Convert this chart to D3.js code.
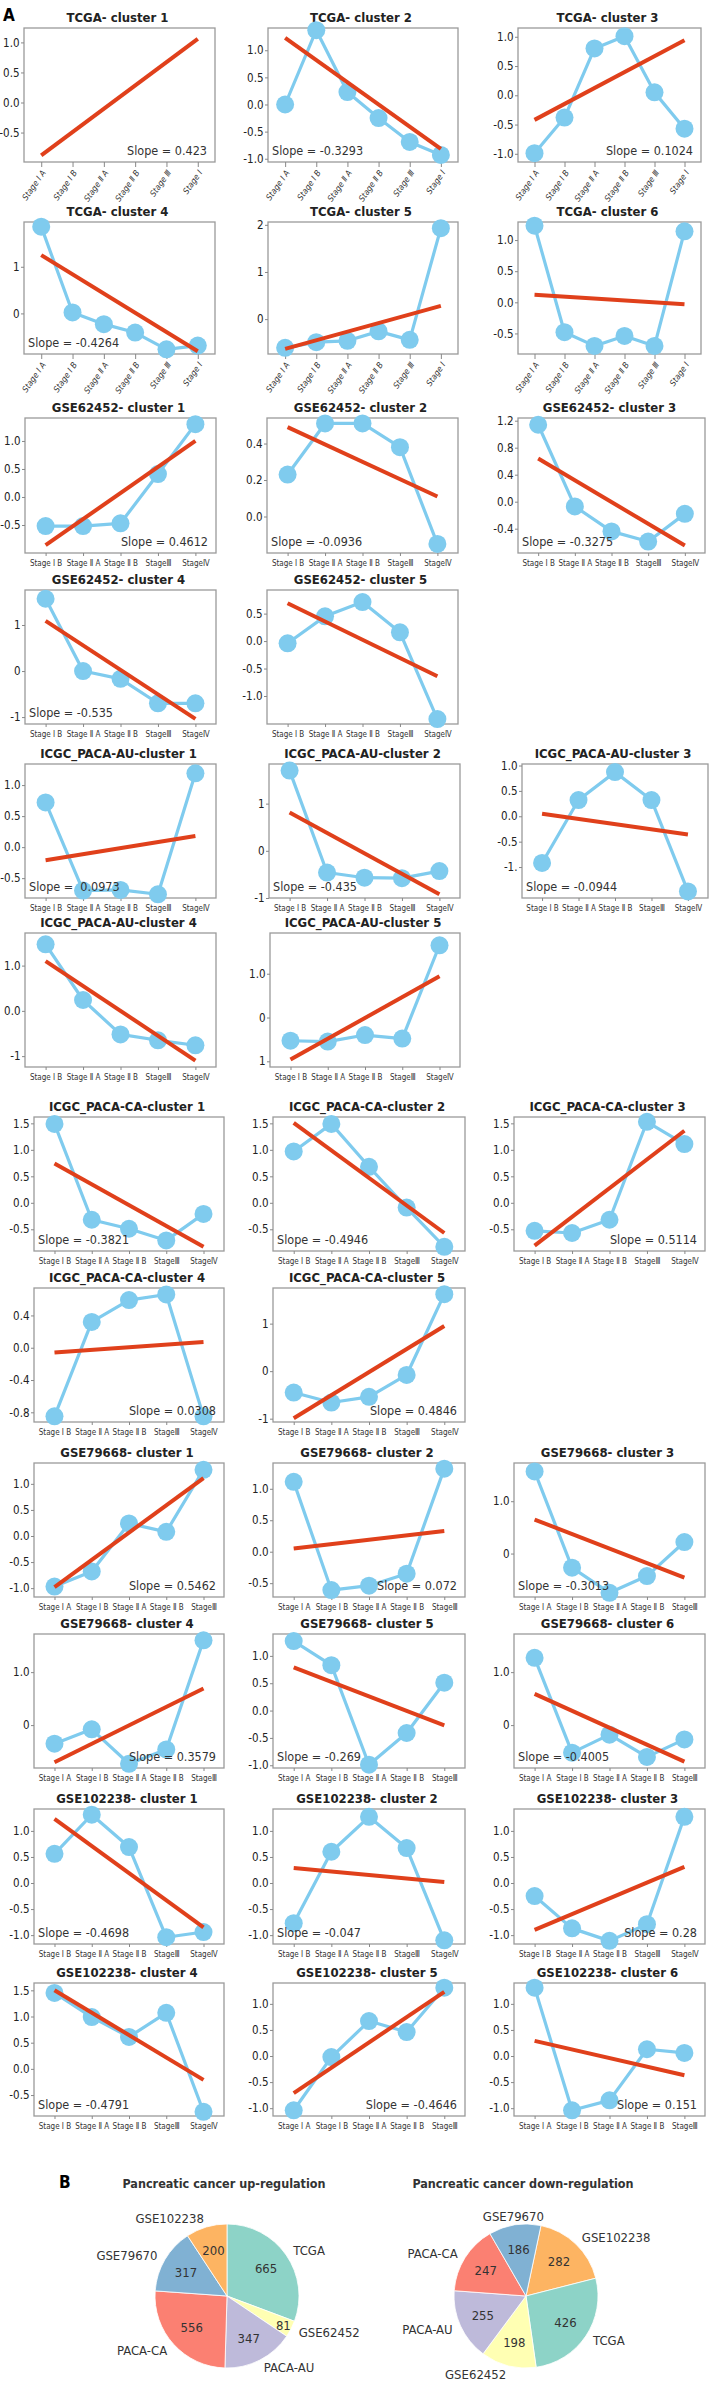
<!DOCTYPE html>
<html>
<head>
<meta charset="utf-8">
<script src="https://cdn.jsdelivr.net/npm/d3@7"></script>
<style>
  body { margin: 0; background: #fff; }
  svg text { font-family: "Liberation Sans Narrow", "DejaVu Sans Condensed", sans-serif; }
</style>
</head>
<body>
<svg id="chart" width="710" height="2389"></svg>
<script>
// stage labels
const stagesTCGA = ["Stage Ⅰ A", "Stage Ⅰ B", "Stage Ⅱ A", "Stage Ⅱ B", "Stage Ⅲ", "Stage Ⅰ"];
const stagesB = ["Stage Ⅰ B", "Stage Ⅱ A", "Stage Ⅱ B", "StageⅢ", "StageⅣ"];
const stagesA = ["Stage Ⅰ A", "Stage Ⅰ B", "Stage Ⅱ A", "Stage Ⅱ B", "StageⅢ"];

const titles = [
  "TCGA- cluster 1", "TCGA- cluster 2", "TCGA- cluster 3", "TCGA- cluster 4", "TCGA- cluster 5", "TCGA- cluster 6",
  "GSE62452- cluster 1", "GSE62452- cluster 2", "GSE62452- cluster 3", "GSE62452- cluster 4", "GSE62452- cluster 5",
  "ICGC_PACA-AU-cluster 1", "ICGC_PACA-AU-cluster 2", "ICGC_PACA-AU-cluster 3", "ICGC_PACA-AU-cluster 4", "ICGC_PACA-AU-cluster 5",
  "ICGC_PACA-CA-cluster 1", "ICGC_PACA-CA-cluster 2", "ICGC_PACA-CA-cluster 3", "ICGC_PACA-CA-cluster 4", "ICGC_PACA-CA-cluster 5",
  "GSE79668- cluster 1", "GSE79668- cluster 2", "GSE79668- cluster 3", "GSE79668- cluster 4", "GSE79668- cluster 5", "GSE79668- cluster 6",
  "GSE102238- cluster 1", "GSE102238- cluster 2", "GSE102238- cluster 3", "GSE102238- cluster 4", "GSE102238- cluster 5", "GSE102238- cluster 6"
];

const panelStages = [
  stagesTCGA, stagesTCGA, stagesTCGA, stagesTCGA, stagesTCGA, stagesTCGA,
  stagesB, stagesB, stagesB, stagesB, stagesB,
  stagesB, stagesB, stagesB, stagesB, stagesB,
  stagesB, stagesB, stagesB, stagesB, stagesB,
  stagesA, stagesA, stagesA, stagesA, stagesA, stagesA,
  stagesB, stagesB, stagesB, stagesB, stagesA, stagesA
];

// cluster mean expression per stage
const values = [
  null,
  [0.0, 1.37, 0.23, -0.25, -0.69, -0.93],
  [-0.99, -0.38, 0.80, 1.01, 0.05, -0.57],
  [1.86, 0.02, -0.23, -0.41, -0.77, -0.69],
  [-0.61, -0.49, -0.46, -0.26, -0.44, 1.93],
  [1.23, -0.48, -0.70, -0.54, -0.70, 1.14],
  [-0.52, -0.52, -0.47, 0.41, 1.30],
  [0.23, 0.51, 0.51, 0.38, -0.15],
  [1.14, -0.07, -0.44, -0.59, -0.18],
  [1.57, 0.0, -0.17, -0.70, -0.70],
  [-0.04, 0.45, 0.71, 0.16, -1.42],
  [0.72, -0.70, -0.69, -0.76, 1.19],
  [1.70, -0.46, -0.57, -0.58, -0.43],
  [-0.92, 0.32, 0.87, 0.32, -1.48],
  [1.47, 0.24, -0.52, -0.65, -0.76],
  [-0.53, -0.55, -0.40, -0.48, 1.65],
  [1.49, -0.32, -0.49, -0.71, -0.21],
  [0.97, 1.49, 0.68, -0.09, -0.83],
  [-0.53, -0.57, -0.32, 1.53, 1.11],
  [-0.85, 0.32, 0.59, 0.66, -0.85],
  [-0.45, -0.66, -0.54, -0.08, 1.62],
  [-0.97, -0.68, 0.24, 0.08, 1.27],
  [1.11, -0.61, -0.54, -0.35, 1.32],
  [1.57, -0.27, -0.75, -0.43, 0.22],
  [-0.35, -0.08, -0.73, -0.46, 1.60],
  [1.27, 0.83, -0.99, -0.41, 0.51],
  [1.27, -0.52, -0.18, -0.60, -0.27],
  [0.56, 1.31, 0.69, -1.04, -0.94],
  [-0.77, 0.60, 1.27, 0.67, -1.10],
  [-0.25, -0.87, -1.11, -0.79, 1.27],
  [1.45, 0.99, 0.61, 1.07, -0.82],
  [-1.04, -0.02, 0.67, 0.46, 1.31],
  [1.31, -1.04, -0.85, 0.13, 0.06]
];

// fitted line: value at first and last stage
const fits = [
  [-0.88, 1.06], [1.23, -0.82], [-0.42, 0.94], [1.25, -0.81], [-0.63, 0.28], [0.12, -0.03],
  [-0.86, 1.0], [0.49, 0.11], [0.64, -0.65], [1.09, -1.04], [0.69, -0.64],
  [-0.21, 0.18], [0.81, -0.92], [0.05, -0.36], [1.10, -1.10], [-0.96, 0.94],
  [0.74, -0.83], [1.51, -0.57], [-0.81, 1.36], [-0.06, 0.07], [-0.99, 0.95],
  [-0.98, 1.11], [0.05, 0.33], [0.65, -0.46], [-0.70, 0.69], [0.79, -0.27], [0.59, -0.69],
  [1.23, -0.85], [0.29, 0.02], [-0.90, 0.31], [1.50, -0.21], [-0.71, 1.23], [0.29, -0.37]
];

const slopes = [
  "Slope = 0.423", "Slope = -0.3293", "Slope = 0.1024", "Slope = -0.4264", null, null,
  "Slope = 0.4612", "Slope = -0.0936", "Slope = -0.3275", "Slope = -0.535", null,
  "Slope =  0.0973", "Slope = -0.435", "Slope = -0.0944", null, null,
  "Slope = -0.3821", "Slope = -0.4946", "Slope = 0.5114", "Slope = 0.0308", "Slope = 0.4846",
  "Slope = 0.5462", "Slope = 0.072", "Slope = -0.3013", "Slope = 0.3579", "Slope = -0.269", "Slope = -0.4005",
  "Slope = -0.4698", "Slope = -0.047", "Slope = 0.28", "Slope = -0.4791", "Slope = -0.4646", "Slope = 0.151"
];

const yDomains = [
  [-0.99, 1.24], [-1.06, 1.41], [-1.14, 1.15], [-0.87, 1.96], [-0.74, 2.06], [-0.83, 1.29],
  [-1.0, 1.41], [-0.2, 0.54], [-0.76, 1.24], [-1.15, 1.76], [-1.51, 0.93],
  [-0.82, 1.34], [-1.0, 1.84], [-1.61, 1.03], [-1.24, 1.72], [-1.13, 1.93],
  [-0.91, 1.62], [-0.91, 1.62], [-0.91, 1.62], [-0.92, 0.74], [-1.07, 1.75],
  [-1.17, 1.40], [-0.72, 1.41], [-0.83, 1.73], [-0.81, 1.72], [-1.05, 1.40], [-0.81, 1.72],
  [-1.17, 1.42], [-1.17, 1.42], [-1.17, 1.42], [-0.9, 1.64], [-1.15, 1.40], [-1.15, 1.40]
];

const t5 = [-1, -0.5, 0, 0.5, 1];
const l5 = ["-1.0", "-0.5", "0.0", "0.5", "1.0"];
const yTickValues = [
  [-0.5, 0, 0.5, 1], t5, t5, [0, 1], [0, 1, 2], [-0.5, 0, 0.5, 1],
  [-0.5, 0, 0.5, 1], [0, 0.2, 0.4], [-0.4, 0, 0.4, 0.8, 1.2], [-1, 0, 1], [-1, -0.5, 0, 0.5],
  [-0.5, 0, 0.5, 1], [-1, 0, 1], t5, [-1, 0, 1], [-1, 0, 1],
  [-0.5, 0, 0.5, 1, 1.5], [-0.5, 0, 0.5, 1, 1.5], [-0.5, 0, 0.5, 1, 1.5], [-0.8, -0.4, 0, 0.4], [-1, 0, 1],
  t5, [-0.5, 0, 0.5, 1], [0, 1], [0, 1], t5, [0, 1],
  t5, t5, t5, [-0.5, 0, 0.5, 1, 1.5], t5, t5
];
const yTickLabels = [
  ["-0.5", "0.0", "0.5", "1.0"], l5, l5, ["0", "1"], ["0", "1", "2"], ["-0.5", "0.0", "0.5", "1.0"],
  ["-0.5", "0.0", "0.5", "1.0"], ["0.0", "0.2", "0.4"], ["-0.4", "0.0", "0.4", "0.8", "1.2"], ["-1", "0", "1"], ["-1.0", "-0.5", "0.0", "0.5"],
  ["-0.5", "0.0", "0.5", "1.0"], ["-1", "0", "1"], ["-1.", "-0.5", "0.0", "0.5", "1.0"], ["-1", "0.0", "1.0"], ["1", "0", "1.0"],
  ["-0.5", "0.0", "0.5", "1.0", "1.5"], ["-0.5", "0.0", "0.5", "1.0", "1.5"], ["-0.5", "0.0", "0.5", "1.0", "1.5"], ["-0.8", "-0.4", "0.0", "0.4"], ["-1", "0", "1"],
  l5, ["-0.5", "0.0", "0.5", "1.0"], ["0", "1.0"], ["0", "1.0"], l5, ["0", "1.0"],
  l5, l5, l5, ["-0.5", "0.0", "0.5", "1.0", "1.5"], l5, l5
];

// pies
const pieUpNames = ["TCGA", "GSE62452", "PACA-AU", "PACA-CA", "GSE79670", "GSE102238"];
const pieUpValues = [665, 81, 347, 556, 317, 200];
const pieDownNames = ["GSE102238", "TCGA", "GSE62452", "PACA-AU", "PACA-CA", "GSE79670"];
const pieDownValues = [282, 426, 198, 255, 247, 186];

// ---------- layout ----------
const svg = d3.select("#chart");
const BLUE = "#7fcbee", RED = "#e0401b", FRAME = "#9a9a9a";

const colsA = [[24, 215], [268, 458], [518, 701]];
const colsC = [[34, 224], [273, 465], [514, 705]];
const rows = [
  {top: 28, bottom: 162, cols: colsA, panels: [0, 1, 2]},
  {top: 222, bottom: 354, cols: colsA, panels: [3, 4, 5]},
  {top: 418, bottom: 553, cols: [[25, 216], [267, 458], [518, 705]], panels: [6, 7, 8]},
  {top: 590, bottom: 724, cols: [[25, 216], [267, 458]], panels: [9, 10]},
  {top: 764, bottom: 898, cols: [[25, 216], [269, 460], [522, 708]], panels: [11, 12, 13]},
  {top: 933, bottom: 1067, cols: [[25, 216], [270, 460]], panels: [14, 15]},
  {top: 1117, bottom: 1251, cols: colsC, panels: [16, 17, 18]},
  {top: 1288, bottom: 1422, cols: colsC, panels: [19, 20]},
  {top: 1463, bottom: 1597, cols: colsC, panels: [21, 22, 23]},
  {top: 1634, bottom: 1768, cols: colsC, panels: [24, 25, 26]},
  {top: 1809, bottom: 1944, cols: colsC, panels: [27, 28, 29]},
  {top: 1983, bottom: 2116, cols: colsC, panels: [30, 31, 32]}
];
// where the slope label sits
const slopeAlign = [
  "end", "start", "end", "start", null, null,
  "end", "start", "start", "start", null,
  "start", "start", "start", null, null,
  "start", "start", "end", "end", "end",
  "end", "end", "start", "end", "start", "start",
  "start", "start", "end", "start", "end", "end"
];

function drawPanel(i, x0, x1, y0, y1) {
  const g = svg.append("g");
  const stages = panelStages[i];
  const rotated = stages.length === 6;
  const x = d3.scalePoint(stages, [x0, x1]).padding(0.55);
  const y = d3.scaleLinear(yDomains[i], [y1, y0]);

  g.append("rect")
    .attr("x", x0).attr("y", y0)
    .attr("width", x1 - x0).attr("height", y1 - y0)
    .attr("fill", "#fff").attr("stroke", FRAME).attr("stroke-width", 1.3);

  g.append("text")
    .attr("x", (x0 + x1) / 2 - 2).attr("y", y0 - 6)
    .attr("text-anchor", "middle")
    .attr("font-size", 13).attr("font-weight", "bold").attr("fill", "#222")
    .text(titles[i]);

  const ya = g.append("g")
    .attr("transform", `translate(${x0},0)`)
    .call(d3.axisLeft(y).tickValues(yTickValues[i])
      .tickFormat((d, k) => yTickLabels[i][k]).tickSize(3).tickPadding(1.5));
  ya.select(".domain").remove();
  ya.selectAll("line").attr("stroke", "#888");
  ya.selectAll("text").attr("font-size", 11.5).attr("fill", "#222");

  const xa = g.append("g")
    .attr("transform", `translate(0,${y1})`)
    .call(d3.axisBottom(x).tickSize(rotated ? 5 : 3).tickPadding(4));
  xa.select(".domain").remove();
  xa.selectAll("line").attr("stroke", "#888");
  if (rotated) {
    xa.selectAll("text")
      .attr("x", 0).attr("y", 0).attr("dy", "0.35em")
      .attr("transform", "translate(2,9) rotate(-55)")
      .attr("text-anchor", "end")
      .attr("font-size", 8.5).attr("font-style", "italic").attr("fill", "#333");
  } else {
    xa.selectAll("text").attr("font-size", 8).attr("fill", "#333");
  }

  const vals = values[i];
  if (vals) {
    const pts = stages.map((s, k) => [x(s), y(vals[k])]);
    g.append("path")
      .attr("d", d3.line()(pts))
      .attr("fill", "none").attr("stroke", BLUE).attr("stroke-width", 3.2)
      .attr("stroke-linejoin", "round");
    g.selectAll(null).data(pts).join("circle")
      .attr("cx", d => d[0]).attr("cy", d => d[1]).attr("r", 9)
      .attr("fill", BLUE);
  }

  const f = fits[i];
  g.append("line")
    .attr("x1", x(stages[0])).attr("y1", y(f[0]))
    .attr("x2", x(stages[stages.length - 1])).attr("y2", y(f[1]))
    .attr("stroke", RED).attr("stroke-width", 4);

  if (slopes[i]) {
    const al = slopeAlign[i];
    g.append("text")
      .attr("x", al === "end" ? x1 - 8 : x0 + 4)
      .attr("y", y1 - 7)
      .attr("text-anchor", al)
      .attr("font-size", 12.5).attr("fill", "#333")
      .style("white-space", "pre")
      .text(slopes[i]);
  }
}

rows.forEach(r => r.panels.forEach((p, k) => drawPanel(p, r.cols[k][0], r.cols[k][1], r.top, r.bottom)));

svg.append("text").attr("x", 3).attr("y", 21)
  .attr("font-size", 17).attr("font-weight", "bold").text("A");
svg.append("text").attr("x", 59).attr("y", 2188)
  .attr("font-size", 17).attr("font-weight", "bold").text("B");

const pieColor = d3.scaleOrdinal(pieUpNames, d3.schemeSet3);

function drawPie(cx, cy, r, names, vals, start, title) {
  const g = svg.append("g");
  g.append("text").attr("x", cx - 3).attr("y", cy - 108)
    .attr("text-anchor", "middle").attr("font-size", 12.5)
    .attr("font-weight", "bold").attr("fill", "#333").text(title);

  const total = d3.sum(vals);
  const data = names.map((n, k) => ({name: n, v: vals[k]}));
  const arcs = d3.pie().sort(null).value(d => d.v)
    .startAngle(start).endAngle(start + 2 * Math.PI)(data);
  const arc = d3.arc().innerRadius(0).outerRadius(r);

  const pg = g.append("g").attr("transform", `translate(${cx},${cy})`);
  pg.selectAll("path").data(arcs).join("path")
    .attr("d", arc)
    .attr("fill", d => pieColor(d.data.name))
    .attr("stroke", "#fff").attr("stroke-width", 0.8);

  const pos = (a, rr) => [rr * Math.sin(a), -rr * Math.cos(a)];
  pg.selectAll(".val").data(arcs).join("text")
    .attr("class", "val")
    .attr("transform", d => {
      const m = (d.startAngle + d.endAngle) / 2;
      const rr = d.data.v / total < 0.05 ? r * 0.88 : r * 0.66;
      return `translate(${pos(m, rr)})`;
    })
    .attr("dy", "0.35em").attr("text-anchor", "middle")
    .attr("font-size", 13).attr("fill", "#333")
    .text(d => d.data.v);

  pg.selectAll(".name").data(arcs).join("text")
    .attr("class", "name")
    .attr("transform", d => `translate(${pos((d.startAngle + d.endAngle) / 2, r * 1.12)})`)
    .attr("dy", "0.35em")
    .attr("text-anchor", d => {
      const s = Math.sin((d.startAngle + d.endAngle) / 2);
      return s > 0.2 ? "start" : s < -0.2 ? "end" : "middle";
    })
    .attr("font-size", 13).attr("fill", "#333")
    .text(d => d.data.name);
}

drawPie(227, 2296, 72, pieUpNames, pieUpValues, 0, "Pancreatic cancer up-regulation");
drawPie(526, 2296, 72, pieDownNames, pieDownValues, 12 * Math.PI / 180, "Pancreatic cancer down-regulation");
</script>
</body>
</html>
